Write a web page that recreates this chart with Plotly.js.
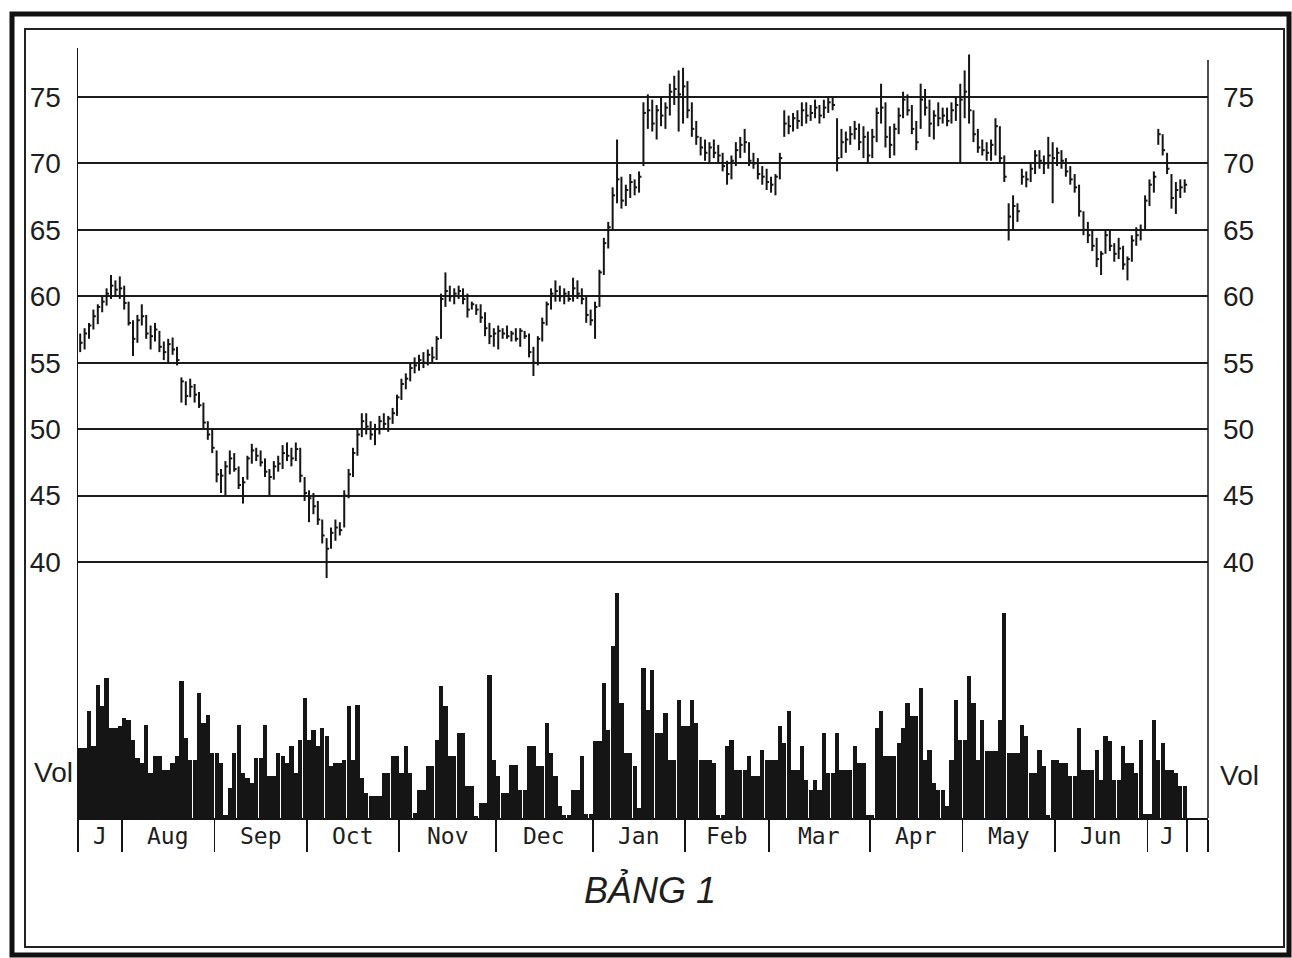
<!DOCTYPE html>
<html>
<head>
<meta charset="utf-8">
<script src="https://cdn.plot.ly/plotly-3.0.1.min.js"></script>
<style>html,body{margin:0;padding:0;background:#fff;}#chart{width:1292px;height:958px;}</style>
</head>
<body>
<div id="chart"></div>
<script>
// ---- data ----
const monthLabels = ["J","Aug","Sep","Oct","Nov","Dec","Jan","Feb","Mar","Apr","May","Jun","J"];
const monthDays   = [10,21,21,21,22,22,21,19,23,21,21,21,9];
const priceTicks  = [40,45,50,55,60,65,70,75];

const high = [
57.2,57.6,58.0,59.0,59.4,60.0,60.6,61.6,61.2,61.5,
60.8,59.6,58.2,58.6,59.4,58.6,57.8,58.0,57.4,56.6,
56.8,56.9,56.2,53.9,53.6,53.8,53.4,52.8,52.0,50.6,
50.0,48.4,47.0,47.6,48.4,48.2,47.2,46.4,48.0,48.9,
48.6,48.4,47.8,47.0,47.6,48.0,48.8,49.0,48.6,49.0,
48.6,46.4,45.4,45.2,44.6,43.2,41.8,42.6,43.2,43.0,
45.4,47.0,48.6,50.0,51.2,51.2,50.6,50.4,51.0,51.2,
51.0,51.6,52.6,53.8,54.2,55.0,55.4,55.6,55.8,56.0,
56.2,57.0,60.2,61.8,60.8,60.6,60.8,60.6,60.2,59.6,
59.4,59.4,58.8,58.0,57.6,57.8,57.6,57.8,57.4,57.6,
57.6,57.4,57.2,56.2,57.0,58.4,59.6,60.6,61.2,60.8,
60.6,60.4,61.4,61.2,60.6,60.0,59.0,59.6,62.0,64.4,
65.6,68.2,71.8,69.0,68.4,69.2,68.8,69.4,74.6,75.2,
74.8,74.4,75.0,74.6,76.0,76.6,77.0,77.2,76.2,74.6,
73.2,72.0,71.8,71.6,71.8,71.4,70.8,70.2,70.6,71.6,
72.0,72.6,71.6,70.8,70.4,69.8,69.6,69.0,69.2,70.8,
74.0,73.6,73.8,74.0,74.6,74.6,74.4,74.8,74.4,74.8,
75.0,75.0,73.4,72.6,72.4,72.8,73.2,73.0,72.8,72.4,
72.6,74.2,76.0,74.6,72.8,73.0,74.2,75.4,75.2,74.4,
73.2,76.0,75.6,74.8,74.0,74.6,74.2,74.2,74.6,75.0,
76.0,77.0,78.2,74.0,72.6,71.8,71.6,71.8,73.4,72.8,
70.6,67.0,67.6,67.0,69.6,69.4,70.0,71.0,71.0,70.6,
72.0,71.6,71.2,71.0,70.4,69.8,69.2,68.4,66.4,65.6,
65.0,64.4,63.4,65.0,65.0,64.0,64.4,63.8,63.0,64.6,
65.2,65.4,67.6,68.8,69.4,72.6,72.2,70.8,69.2,68.6,68.8,68.8];

const low = [
55.8,56.0,56.8,57.5,57.9,58.8,59.3,59.8,60.0,59.8,
59.0,57.8,55.5,56.5,57.8,56.8,56.0,56.6,55.8,55.2,
55.0,55.6,54.8,52.0,51.8,52.4,52.0,51.6,50.0,49.2,
48.2,46.0,45.2,45.0,46.6,46.8,45.5,44.4,46.2,47.4,
47.6,47.2,46.4,45.0,46.2,46.8,47.0,47.6,47.2,47.6,
46.0,44.6,43.0,43.6,42.8,41.4,38.8,41.0,41.6,42.0,
42.6,44.8,46.4,48.0,49.4,49.6,49.2,48.8,49.6,50.0,
49.8,50.4,51.0,52.2,53.0,53.6,54.2,54.4,54.6,54.8,
55.0,55.2,56.8,59.2,59.6,59.4,59.8,59.4,58.4,59.0,
58.6,58.0,57.0,56.4,56.2,56.0,56.8,56.8,56.6,56.6,
56.2,56.8,55.4,54.0,54.8,56.6,57.8,59.0,59.6,59.6,
59.4,59.6,59.6,59.8,59.4,58.0,57.8,56.8,59.2,61.6,
63.6,65.0,67.0,66.6,66.8,67.4,67.6,67.8,69.8,72.6,
72.4,71.8,72.8,72.6,73.6,74.4,72.4,73.0,73.4,72.0,
71.4,70.6,70.2,70.0,70.4,70.0,69.4,68.4,68.8,69.8,
70.4,70.8,69.8,69.6,68.8,68.4,68.0,67.8,67.6,68.8,
72.0,72.2,72.4,72.6,72.8,73.0,73.2,73.4,73.0,73.4,
73.8,74.0,69.4,70.4,70.8,71.4,71.8,71.0,70.4,70.0,
70.4,71.6,73.0,71.2,70.4,70.6,72.2,73.4,73.6,72.2,
71.0,72.6,73.6,72.0,71.8,72.8,73.0,72.8,73.0,73.2,
70.0,73.4,73.0,71.6,70.8,70.6,70.2,70.2,70.6,70.0,
68.6,64.2,65.0,65.6,68.4,68.2,68.6,69.2,69.6,69.2,
69.6,67.0,69.8,69.6,69.0,68.4,67.8,66.0,64.6,64.0,
63.4,62.2,61.6,63.2,63.4,62.6,62.8,62.0,61.2,62.6,
63.8,64.2,65.0,66.8,67.8,71.4,70.6,69.2,66.6,66.2,67.4,67.8];

const close = [
56.5,57.2,57.8,58.5,59.2,59.6,60.2,60.8,60.5,60.6,
59.5,58.0,56.8,58.2,58.5,57.2,57.0,57.5,56.2,55.8,
56.4,56.0,55.2,53.6,52.5,53.2,52.6,51.8,50.5,49.6,
48.6,46.6,46.5,47.2,47.8,47.0,45.8,46.0,47.8,48.4,
48.0,47.5,46.8,46.4,47.2,47.4,48.2,48.0,47.8,48.5,
46.5,45.2,44.8,44.2,43.2,42.0,41.0,42.2,42.6,42.4,
45.0,46.6,48.2,49.6,50.6,50.2,49.6,50.0,50.6,50.4,
50.8,51.2,52.4,53.4,53.8,54.6,54.8,55.2,55.0,55.6,
55.4,56.8,59.8,60.4,60.0,60.2,60.4,59.8,59.0,59.4,
59.0,58.4,57.6,57.0,57.2,57.4,57.2,57.0,57.2,56.8,
57.4,57.0,55.8,55.0,56.8,58.0,59.4,60.2,60.4,60.0,
60.2,59.8,60.6,60.2,59.8,58.6,58.2,59.2,61.8,64.0,
65.2,67.6,68.8,67.2,68.0,68.6,68.2,69.0,73.8,74.0,
73.0,74.0,73.6,74.2,75.4,75.6,75.2,75.8,74.0,72.6,
72.0,71.2,70.8,71.2,70.8,70.6,69.8,69.2,70.2,71.0,
71.4,71.6,70.2,70.0,69.2,69.0,68.6,68.4,69.0,70.4,
73.0,72.8,73.4,73.2,74.0,73.6,73.8,74.2,73.6,74.2,
74.6,74.4,70.4,71.6,71.8,72.2,72.6,71.6,72.0,70.6,
72.0,73.8,74.2,72.0,71.4,72.6,73.6,74.8,74.0,72.6,
71.6,74.8,74.2,73.0,73.6,73.4,73.6,73.2,74.0,74.4,
74.8,75.4,74.0,72.2,71.2,71.0,70.8,71.4,72.8,70.4,
69.0,66.0,66.8,66.4,69.0,68.8,69.6,70.6,70.2,70.0,
70.6,70.4,70.8,70.2,69.4,68.8,68.2,66.4,65.0,64.6,
63.8,62.8,63.2,64.6,63.8,63.2,63.6,62.4,62.8,64.2,
64.6,65.0,67.2,68.4,69.0,72.2,71.0,69.6,67.4,68.0,68.2,68.4];

const volume = [
70,70,107,72,133,112,140,90,90,92,
100,98,78,60,55,93,45,62,62,48,
48,55,62,137,80,58,58,125,95,103,
65,65,55,3,30,65,93,45,40,35,
60,60,93,42,42,65,62,55,72,45,
78,120,78,88,72,90,82,52,55,55,
58,112,58,113,40,25,22,22,22,45,
45,62,62,45,72,45,5,28,28,52,
52,78,132,112,62,62,85,85,32,32,
2,15,15,143,58,42,25,25,53,53,
28,28,72,72,52,52,95,65,42,12,
3,3,28,28,62,4,4,77,77,135,
88,172,225,115,65,65,52,10,150,108,
148,85,85,105,58,58,118,92,92,118,
95,58,58,58,55,3,3,72,78,48,
48,48,62,42,42,68,58,58,58,92,
75,107,48,48,72,38,28,38,28,85,
45,45,85,48,48,48,72,55,55,3,
3,90,107,62,62,62,75,90,115,102,
102,130,58,68,35,28,28,12,58,118,
78,78,142,115,58,98,67,67,67,98,
205,65,65,65,93,82,45,45,68,52,
3,58,58,55,55,42,42,90,48,48,
48,68,38,82,77,38,38,72,55,55,
45,78,4,4,98,58,75,48,48,45,32,32];

// ---- geometry helpers (layout only) ----
const W = 1292, H = 958;
const M = {l:78, r:84, t:48, b:140};
const PW = W - M.l - M.r, PH = H - M.t - M.b;
const px2x = p => (p - M.l) / PW;
const py2y = p => (H - M.b - p) / PH;

const xEnd = 256.8;
const bounds = [0];
monthDays.forEach(d => bounds.push(bounds[bounds.length-1] + d));
const mids = monthLabels.map((_, i) => (bounds[i] + bounds[i+1]) / 2);

// HLC bars
const n = high.length;
const bx = [], by = [], cx = [], cy = [];
for (let i = 0; i < n; i++) {
  const x = i + 0.5;
  bx.push(x, x, null); by.push(low[i], high[i], null);
  cx.push(x, x + 0.55, null); cy.push(close[i], close[i], null);
}
const vx = volume.map((_, i) => i + 0.5);

const ink = '#151515';
const tickFont = {family: 'Liberation Sans, Arial, sans-serif', size: 28, color: '#1e1e1e'};

const traces = [
  {type:'bar', x: vx, y: volume, width: 0.96, marker:{color: ink, line:{width:0}},
   xaxis:'x', yaxis:'y2', hoverinfo:'skip', showlegend:false},
  {type:'scatter', mode:'lines', x: bx, y: by, line:{color: ink, width:2},
   xaxis:'x', yaxis:'y', connectgaps:false, hoverinfo:'skip', showlegend:false},
  {type:'scatter', mode:'lines', x: cx, y: cy, line:{color: ink, width:2},
   xaxis:'x', yaxis:'y3', connectgaps:false, hoverinfo:'skip', showlegend:false}
];

const yr = [40 - (818 - 562) / 13.29, 75 + (97 - 48) / 13.29];

const annotations = monthLabels.map((t, i) => ({
  text: t, x: mids[i], xref:'x', y: py2y(836), yref:'paper',
  showarrow:false, xanchor:'center', yanchor:'middle',
  font:{family:'DejaVu Sans Mono, monospace', size:23, color:'#1e1e1e'}
}));
annotations.push({
  text:'Vol', x: px2x(1218), xref:'paper', y: 43, yref:'y2',
  showarrow:false, xanchor:'left', yanchor:'middle', font: tickFont
});
annotations.push({
  text:'<i>BẢNG 1</i>', x: px2x(650), xref:'paper', y: py2y(890), yref:'paper',
  showarrow:false, xanchor:'center', yanchor:'middle',
  font:{family:'Liberation Sans, Arial, sans-serif', size:36, color:'#1e1e1e'}
});

const shapes = [
  {type:'rect', xref:'paper', yref:'paper', x0: px2x(12), x1: px2x(1289), y0: py2y(14), y1: py2y(955),
   line:{color:'#111', width:5}},
  {type:'rect', xref:'paper', yref:'paper', x0: px2x(25), x1: px2x(1284), y0: py2y(29), y1: py2y(947),
   line:{color:'#222', width:2}},
  {type:'line', xref:'paper', yref:'paper', x0: 1, x1: 1, y0: 0, y1: py2y(60),
   line:{color: ink, width:1.5}}
];

const layout = {
  width: W, height: H, margin: M,
  paper_bgcolor:'#fff', plot_bgcolor:'#fff',
  showlegend:false, bargap:0,
  xaxis:{range:[0, xEnd], tickvals: bounds.concat([xEnd]), ticks:'outside', ticklen:32, tickwidth:1.5,
         tickcolor: ink, showticklabels:false, showgrid:false, zeroline:false,
         showline:true, linecolor: ink, linewidth:1.5, fixedrange:true},
  yaxis:{range: yr, tickvals: priceTicks, ticks:'', showgrid:true, gridcolor:'#1c1c1c', gridwidth:2,
         zeroline:false, showline:true, linecolor: ink, linewidth:1.5, tickfont: tickFont,
         ticklabelstandoff: 10, fixedrange:true},
  yaxis2:{range:[0, PH], overlaying:'y', side:'left', tickvals:[46], ticktext:['Vol'], ticks:'',
          showgrid:false, zeroline:false, showline:false, tickfont: tickFont, ticklabelstandoff: 4, fixedrange:true},
  yaxis3:{range: yr, overlaying:'y', side:'right', tickvals: priceTicks, ticks:'', showgrid:false,
          zeroline:false, showline:false, tickfont: tickFont,
          ticklabelstandoff: 14, fixedrange:true},
  annotations: annotations,
  shapes: shapes
};

Plotly.newPlot('chart', traces, layout, {displayModeBar:false, staticPlot:true});
</script>
</body>
</html>
